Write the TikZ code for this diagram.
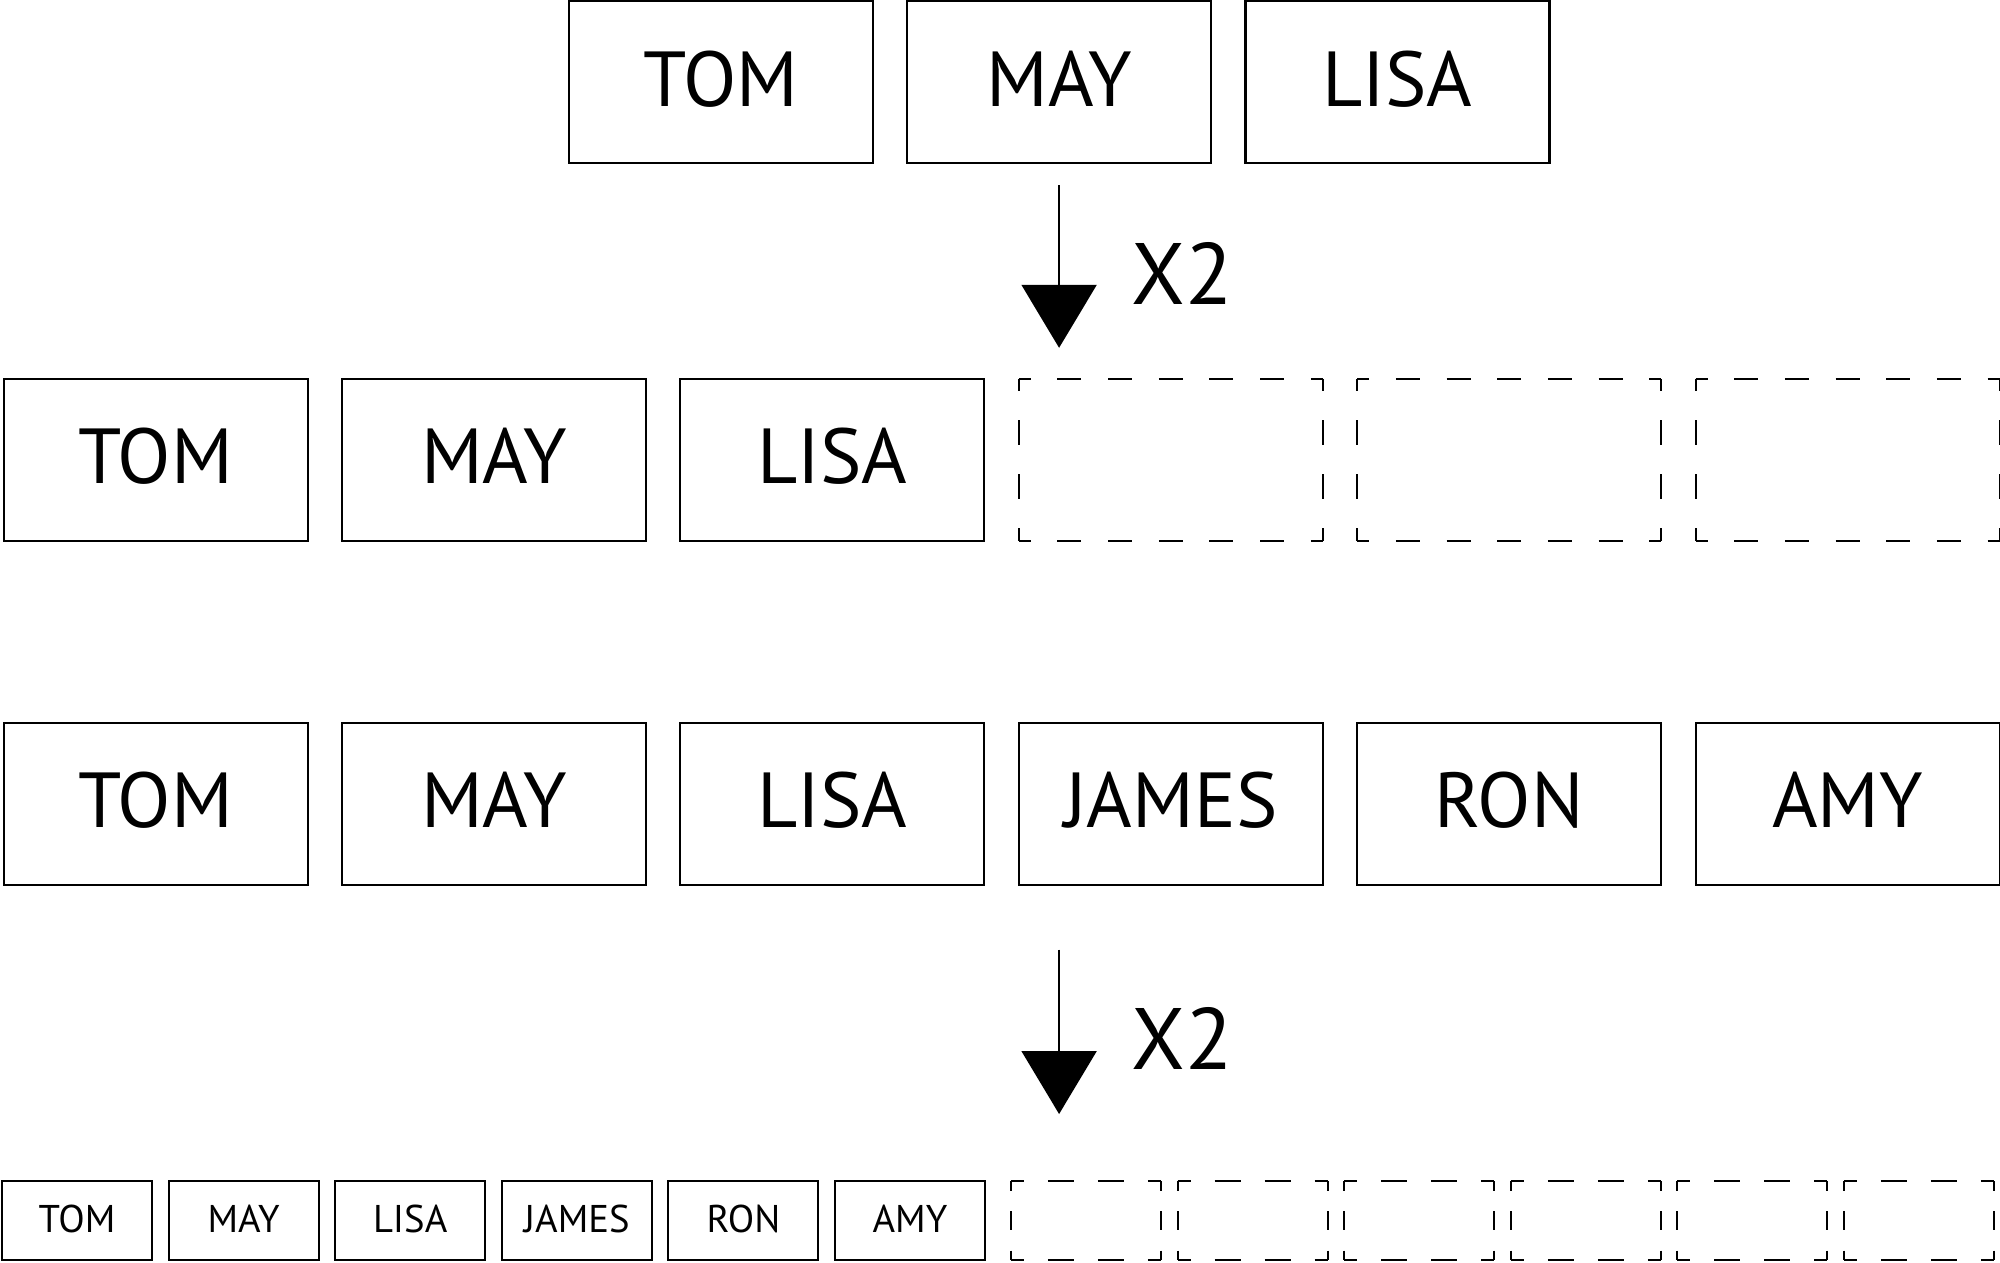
\documentclass[tikz,border=0pt]{standalone}
\usepackage{fontspec}
\setmainfont{PT Sans}
\usetikzlibrary{positioning, arrows.meta}

\begin{document}
\begin{tikzpicture}[x=0.1mm, y=-0.1mm, node distance=0.344cm,
cell/.style={draw, line width=0.6pt, outer sep=0pt, inner sep=0pt,
  minimum width=3.04cm, minimum height=1.62cm, text depth=2.3pt,
  font=\fontsize{22.2}{26}\selectfont},
mini/.style={cell, minimum width=1.5cm, minimum height=0.79cm, text depth=1pt,
  font=\fontsize{11}{13}\selectfont},
hole/.style={cell, draw=none},
minihole/.style={mini, draw=none},
widedash/.style={line width=0.6pt, dash pattern=on 0.24cm off 0.2667cm, dash phase=0.12cm},
talldash/.style={line width=0.6pt, dash pattern=on 0.25cm off 0.29cm, dash phase=0.125cm},
miniwide/.style={line width=0.6pt, dash pattern=on 0.26cm off 0.24cm, dash phase=0.13cm},
minitall/.style={line width=0.6pt, dash pattern=on 0.19cm off 0.205cm, dash phase=0.095cm},
factor/.style={inner sep=0pt, anchor=west, font=\fontsize{24.8}{30}\selectfont},
doubling/.style={line width=0.6pt, -{Triangle[length=0.63cm, width=0.75cm]}}]
\useasboundingbox (0,0) rectangle (2000,1262);

\node[cell] (tom1) at (720.7,82.3) {TOM};
\node[cell, right=of tom1] (may1) {MAY};
\node[cell, right=of may1] (lisa1) {LISA};

\node[cell] (tom2) at (155.6,459.8) {TOM};
\node[cell, right=of tom2] (may2) {MAY};
\node[cell, right=of may2] (lisa2) {LISA};
\node[hole, right=of lisa2] (free1) {};
\node[hole, right=of free1] (free2) {};
\node[hole, right=of free2] (free3) {};

\node[cell] (tom3) at (155.6,803.6) {TOM};
\node[cell, right=of tom3] (may3) {MAY};
\node[cell, right=of may3] (lisa3) {LISA};
\node[cell, right=of lisa3] (james3) {JAMES};
\node[cell, right=of james3] (ron3) {RON};
\node[cell, right=of ron3] (amy3) {AMY};

\node[mini] (tom4) at (77,1220.5) {TOM};
\node[mini, right=0.166cm of tom4] (may4) {MAY};
\node[mini, right=0.166cm of may4] (lisa4) {LISA};
\node[mini, right=0.166cm of lisa4] (james4) {JAMES};
\node[mini, right=0.166cm of james4] (ron4) {RON};
\node[mini, right=0.166cm of ron4] (amy4) {AMY};
\node[minihole, right=0.26cm of amy4] (free4) {};
\node[minihole, right=0.166cm of free4] (free5) {};
\node[minihole, right=0.166cm of free5] (free6) {};
\node[minihole, right=0.166cm of free6] (free7) {};
\node[minihole, right=0.166cm of free7] (free8) {};
\node[minihole, right=0.166cm of free8] (free9) {};

\foreach \f in {free1,free2,free3} {
  \draw[widedash] (\f.north west) -- (\f.north east) (\f.south west) -- (\f.south east);
  \draw[talldash] (\f.north west) -- (\f.south west) (\f.north east) -- (\f.south east);
}
\foreach \f in {free4,free5,free6,free7,free8,free9} {
  \draw[miniwide] (\f.north west) -- (\f.north east) (\f.south west) -- (\f.south east);
  \draw[minitall] (\f.north west) -- (\f.south west) (\f.north east) -- (\f.south east);
}

\draw[doubling, shorten <=0.22cm, shorten >=0.31cm] (may1.south) -- (may1.south |- free1.north);
\node[factor] (twice1) at (1131,273) {X2};
\draw[doubling, shorten <=0.65cm, shorten >=0.67cm] (may1.south |- lisa3.south) -- (may1.south |- free4.north);
\node[factor] (twice2) at (1131,1038.5) {X2};
\end{tikzpicture}
\end{document}
